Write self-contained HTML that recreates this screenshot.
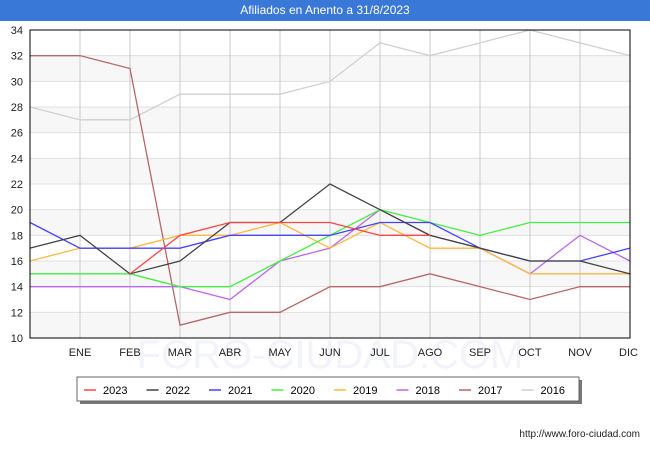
<!DOCTYPE html>
<html><head><meta charset="utf-8"><style>
body{margin:0;width:650px;height:450px;background:#fff;font-family:"Liberation Sans",sans-serif;overflow:hidden}
#title{position:absolute;left:0;top:0;width:650px;height:21px;background:#3a78d8;color:#fff;font-size:12px;text-align:center;line-height:21px;z-index:2}
</style></head><body>
<div id="title">Afiliados en Anento a 31/8/2023</div>
<svg id="chart" width="650" height="450" style="position:absolute;left:0;top:0"></svg>
<script>
const months=["","ENE","FEB","MAR","ABR","MAY","JUN","JUL","AGO","SEP","OCT","NOV","DIC"];
const yTicks=[10,12,14,16,18,20,22,24,26,28,30,32,34];
const seriesNames=["2023","2022","2021","2020","2019","2018","2017","2016"];
const seriesColors=["#ff4444","#444444","#4444ff","#44ee44","#ffb840","#bb66ee","#b86666","#d0d0d0"];
const s2023=[null,null,15,18,19,19,19,18,18,null,null,null,null];
const s2022=[17,18,15,16,19,19,22,20,18,17,16,16,15];
const s2021=[19,17,17,17,18,18,18,19,19,17,16,16,17];
const s2020=[15,15,15,14,14,16,18,20,19,18,19,19,19];
const s2019=[16,17,17,18,18,19,17,19,17,17,15,15,15];
const s2018=[14,14,14,14,13,16,17,20,18,17,15,18,16];
const s2017=[32,32,31,11,12,12,14,14,15,14,13,14,14];
const s2016=[28,27,27,29,29,29,30,33,32,33,34,33,32];
const allSeries=[s2023,s2022,s2021,s2020,s2019,s2018,s2017,s2016];
const X0=30,X1=630,Y0=338,Y1=30;
const x=i=>X0+(X1-X0)*i/12;
const y=v=>Y0-(v-10)/24*(Y0-Y1);
const svg=document.getElementById('chart');
const NS="http://www.w3.org/2000/svg";
function mk(t,a){const e=document.createElementNS(NS,t);for(const k in a)e.setAttribute(k,a[k]);svg.appendChild(e);return e;}
const wm=mk('text',{x:330,y:368,'font-size':40,'text-anchor':'middle',fill:'#f2f3fb'});wm.textContent="FORO-CIUDAD.COM";


for(let i=0;i<yTicks.length-1;i++){
 if(i%2===0){const r=mk('rect',{x:X0,y:y(yTicks[i+1]),width:X1-X0,height:y(yTicks[i])-y(yTicks[i+1]),fill:'#f7f7f7'});
 
 }
}
yTicks.forEach(v=>{
 const l=mk('line',{x1:X0,x2:X1,y1:y(v),y2:y(v),stroke:'#e0e0e0'});
 
 
 const t=mk('text',{x:23,y:y(v)+4,'font-size':11,'text-anchor':'end',fill:'#222'});t.textContent=v;
 
 
});
months.forEach((m,i)=>{
 if(i>0){const l=mk('line',{x1:x(i),x2:x(i),y1:Y1,y2:Y0,stroke:'#c8c8c8'});
 
 }
 const t=mk('text',{x:x(i),y:356,'font-size':11,'text-anchor':i===12?'end':'middle',fill:'#222'});t.textContent=m;
 if(i===12)t.setAttribute('x',x(i)+8);
 
 
});
for(let s=allSeries.length-1;s>=0;s--){
 const d=allSeries[s];let p="";let st=false;
 d.forEach((v,i)=>{if(v==null){st=false;return;}p+=(st?"L":"M")+x(i)+" "+y(v)+" ";st=true;});
 const pl=mk('path',{d:p,fill:'none',stroke:seriesColors[s],'stroke-width':1.3});
 
 
}
const fr=mk('rect',{x:X0,y:Y1,width:X1-X0,height:Y0-Y1,fill:'none',stroke:'#000'});


const sh=mk('rect',{x:80,y:380,width:502,height:24,fill:'#777'});


const lb=mk('rect',{x:77,y:377,width:502,height:24,fill:'#fff',stroke:'#666'});


seriesNames.forEach((n,i)=>{
 const lx=84+i*62.5;
 const l=mk('line',{x1:lx,x2:lx+12,y1:390,y2:390,stroke:seriesColors[i],'stroke-width':1.5});
 
 
 const t=mk('text',{x:lx+19,y:394,'font-size':11,fill:'#000'});t.textContent=n;
 
 
});
const u=mk('text',{x:640,y:437,'font-size':10,'text-anchor':'end',fill:'#222'});u.textContent="http://www.foro-ciudad.com";


</script>
</body></html>
